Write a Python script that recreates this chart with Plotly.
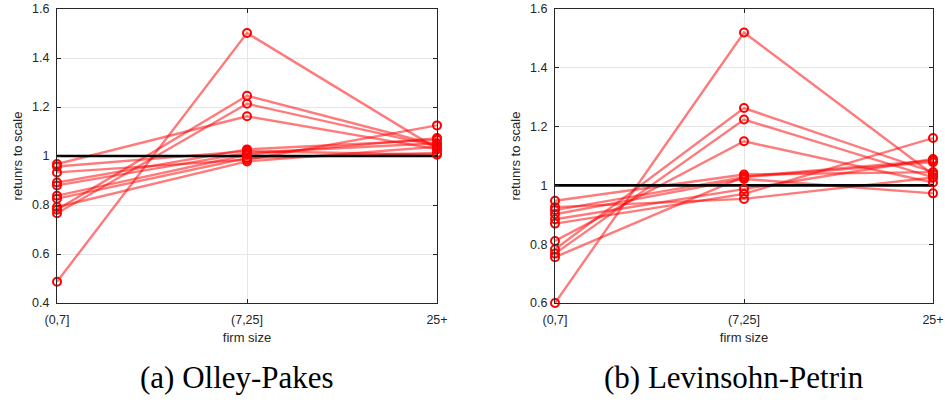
import plotly.graph_objects as go

categories = ["(0,7]", "(7,25]", "25+"]

# Olley-Pakes: each list is one series across the three firm-size groups
op_series = [
    [0.487, 1.502, 1.030],
    [0.781, 1.246, 1.045],
    [0.766, 1.213, 1.040],
    [0.967, 1.162, 1.028],
    [0.933, 0.985, 1.125],
    [0.892, 1.027, 1.066],
    [0.880, 1.013, 1.052],
    [0.838, 1.005, 1.073],
    [0.826, 0.992, 1.012],
    [0.792, 0.978, 1.038],
    [0.957, 1.020, 1.005],
]

# Levinsohn-Petrin
lp_series = [
    [0.600, 1.520, 1.037],
    [0.783, 1.263, 1.045],
    [0.768, 1.224, 1.027],
    [0.811, 1.150, 1.010],
    [0.870, 0.971, 1.161],
    [0.948, 1.037, 1.045],
    [0.916, 1.028, 1.079],
    [0.902, 1.022, 0.973],
    [0.885, 0.988, 1.090],
    [0.926, 0.954, 1.027],
    [0.756, 1.030, 1.085],
]

ref_level = [1.0, 1.0, 1.0]

panels = [
    dict(series=op_series, xaxis="x", yaxis="y", yrange=[0.4, 1.6],
         ticks=[0.4, 0.6, 0.8, 1.0, 1.2, 1.4, 1.6],
         ticktext=["0.4", "0.6", "0.8", "1", "1.2", "1.4", "1.6"],
         caption="(a) Olley-Pakes", capx=237),
    dict(series=lp_series, xaxis="x2", yaxis="y2", yrange=[0.6, 1.6],
         ticks=[0.6, 0.8, 1.0, 1.2, 1.4, 1.6],
         ticktext=["0.6", "0.8", "1", "1.2", "1.4", "1.6"],
         caption="(b) Levinsohn-Petrin", capx=734),
]

xpos = [1, 2, 3]
fig = go.Figure()

for p in panels:
    for s in p["series"]:
        fig.add_trace(go.Scatter(
            x=xpos, y=s, mode="lines", xaxis=p["xaxis"], yaxis=p["yaxis"],
            line=dict(color="rgba(255,0,0,0.52)", width=2.4),
            showlegend=False, hoverinfo="skip"))
    fig.add_trace(go.Scatter(
        x=xpos, y=ref_level, mode="lines", xaxis=p["xaxis"], yaxis=p["yaxis"],
        line=dict(color="black", width=2.6), showlegend=False))
    for s in p["series"]:
        fig.add_trace(go.Scatter(
            x=xpos, y=s, mode="markers", xaxis=p["xaxis"], yaxis=p["yaxis"],
            marker=dict(symbol="circle-open", size=8, color="red",
                        line=dict(width=2, color="red")),
            cliponaxis=False, showlegend=False))

W, H = 945, 404
def fx(px):
    return px / W
def fy(py):
    return 1 - py / H

axis_common = dict(
    showline=True, linecolor="#262626", linewidth=1, mirror="ticks",
    ticks="inside", ticklen=4, tickcolor="#262626", automargin=False,
    ticklabeloverflow="allow",
    showgrid=True, gridcolor="#e6e6e6", gridwidth=1, zeroline=False,
    tickfont=dict(family="Liberation Sans, Arial, sans-serif", size=12.5, color="#262626"),
)

ydom = [fy(303), fy(9)]
layout = dict(
    width=W, height=H, margin=dict(l=0, r=0, t=0, b=0),
    plot_bgcolor="white", paper_bgcolor="white",
    font=dict(family="Liberation Sans, Arial, sans-serif", color="#262626"),
)
xdoms = [[fx(57), fx(437)], [fx(555), fx(933)]]
for i, p in enumerate(panels):
    xk = "xaxis" if i == 0 else "xaxis2"
    yk = "yaxis" if i == 0 else "yaxis2"
    layout[xk] = dict(axis_common, domain=xdoms[i], range=[1, 3],
                      tickvals=xpos, ticktext=categories, ticklabelstandoff=5,
                      anchor=p["yaxis"],
                      title=dict(text="firm size", font=dict(size=13), standoff=6))
    layout[yk] = dict(axis_common, domain=ydom, range=p["yrange"],
                      tickvals=p["ticks"], ticktext=p["ticktext"],
                      ticklabelstandoff=4,
                      anchor=p["xaxis"],
                      title=dict(text="retunrs to scale", font=dict(size=13), standoff=6))

fig.update_layout(**layout)

for i, p in enumerate(panels):
    fig.add_annotation(text=p["caption"], x=fx(p["capx"]), y=fy(377), xref="paper", yref="paper",
                       xanchor="center", yanchor="middle", showarrow=False,
                       font=dict(family="Liberation Serif, serif", size=31, color="black"))

fig.write_html("out.html", config={"displayModeBar": False},
               post_script="document.body.style.margin='0';document.body.style.overflow='hidden';")
